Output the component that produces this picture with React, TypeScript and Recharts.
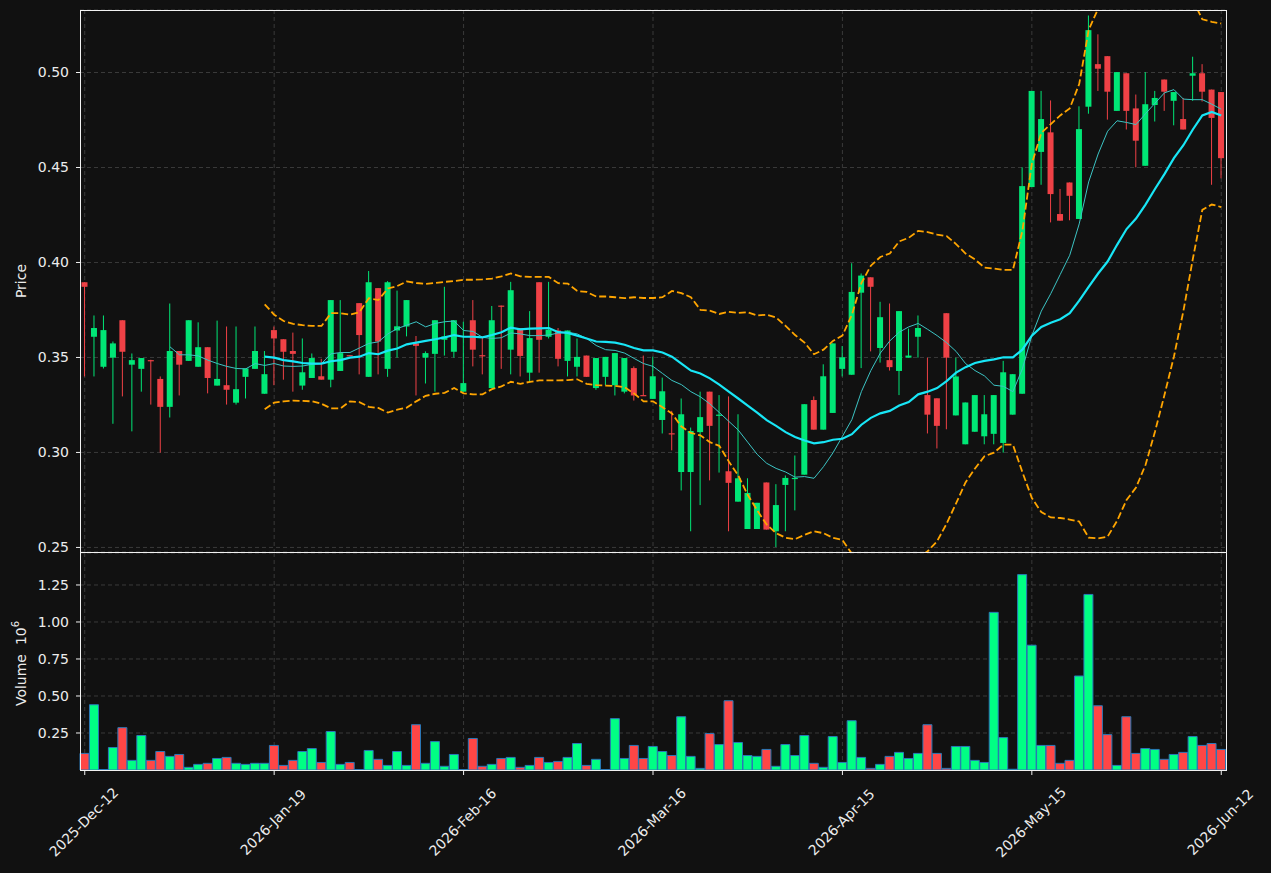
import React from 'react';
import {
  ComposedChart,
  Bar,
  Line,
  XAxis,
  YAxis,
  CartesianGrid,
  Cell,
} from 'recharts';

const W = 1271;
const H = 873;
const FONT = '"DejaVu Sans", Verdana, sans-serif';
const BG = '#111111';
const TEXT = '#ececec';
const GRID = '#3a3a3a';
const UP = '#00e676';
const DOWN = '#ef4146';
const VOL_UP = '#00ff84';
const VOL_DOWN = '#ff4646';

// x axis labels, one every 20 candles
const tickLabels = [
  '2025-Dec-12',
  '2026-Jan-19',
  '2026-Feb-16',
  '2026-Mar-16',
  '2026-Apr-15',
  '2026-May-15',
  '2026-Jun-12',
];
const tickIdx = [0, 20, 40, 60, 80, 100, 120];

const opens = [
  0.3896, 0.3609, 0.3451, 0.3499, 0.3696, 0.3462, 0.344, 0.3486, 0.3387, 0.324,
  0.3534, 0.3482, 0.3451, 0.3554, 0.3352, 0.3354, 0.3262, 0.3398, 0.344, 0.3309,
  0.3644, 0.3596, 0.3534, 0.3352, 0.3392, 0.3401, 0.3383, 0.3429, 0.3512, 0.3786,
  0.3398, 0.3865, 0.344, 0.3642, 0.3663, 0.3574, 0.3499, 0.3519, 0.3593, 0.353,
  0.332, 0.3696, 0.3512, 0.3339, 0.3773, 0.3541, 0.3655, 0.342, 0.3896, 0.3609,
  0.3642, 0.3482, 0.3451, 0.351, 0.3339, 0.3398, 0.3354, 0.332, 0.3444, 0.3302,
  0.3282, 0.3171, 0.3101, 0.2897, 0.2897, 0.3107, 0.332, 0.3197, 0.2901, 0.2741,
  0.2597, 0.2597, 0.2842, 0.2585, 0.2829, 0.2862, 0.2883, 0.3276, 0.312, 0.3208,
  0.344, 0.3409, 0.3841, 0.3922, 0.355, 0.3486, 0.3429, 0.3499, 0.3609, 0.3302,
  0.3285, 0.3733, 0.3195, 0.3043, 0.3109, 0.3085, 0.3098, 0.305, 0.3199, 0.3309,
  0.4397, 0.4582, 0.4685, 0.4255, 0.4421, 0.4229, 0.482, 0.5044, 0.5086, 0.4798,
  0.4996, 0.4811, 0.4509, 0.4829, 0.4963, 0.4851, 0.4755, 0.4983, 0.4996, 0.491,
  0.4897,
];

const highs = [
  0.3896, 0.3721, 0.3721, 0.3584, 0.3696, 0.3521, 0.3497, 0.3488, 0.34, 0.3784,
  0.3534, 0.3696, 0.3685, 0.3554, 0.3694, 0.3663, 0.3663, 0.3442, 0.3663, 0.3534,
  0.3663, 0.3596, 0.3631, 0.36, 0.3521, 0.3493, 0.3802, 0.3802, 0.3512, 0.3786,
  0.3955, 0.3865, 0.3902, 0.3852, 0.3802, 0.3613, 0.3532, 0.3696, 0.3872, 0.3696,
  0.3688, 0.3802, 0.3606, 0.3771, 0.3773, 0.3898, 0.3655, 0.3744, 0.3896, 0.3898,
  0.3655, 0.3642, 0.36, 0.351, 0.3497, 0.3503, 0.3523, 0.3497, 0.3453, 0.351,
  0.3504, 0.3394, 0.3219, 0.3284, 0.3131, 0.332, 0.332, 0.3302, 0.3295, 0.3201,
  0.2864, 0.2735, 0.2842, 0.2833, 0.2879, 0.2984, 0.3254, 0.3295, 0.3464, 0.3574,
  0.356, 0.3996, 0.3942, 0.3922, 0.3793, 0.3784, 0.3744, 0.3652, 0.3721, 0.3499,
  0.3285, 0.3733, 0.3499, 0.3263, 0.3302, 0.3302, 0.3302, 0.3482, 0.3412, 0.4501,
  0.4903, 0.4903, 0.4853, 0.4387, 0.4421, 0.4822, 0.53, 0.5201, 0.5086, 0.5002,
  0.4996, 0.4884, 0.5002, 0.4903, 0.4963, 0.4897, 0.4866, 0.5083, 0.5044, 0.491,
  0.4897,
];

const lows = [
  0.34, 0.34, 0.3442, 0.3151, 0.3295, 0.3111, 0.332, 0.3252, 0.2999, 0.3184,
  0.33, 0.3482, 0.3451, 0.3311, 0.3352, 0.3252, 0.3252, 0.3284, 0.344, 0.3309,
  0.3354, 0.3383, 0.332, 0.333, 0.3392, 0.3383, 0.3343, 0.3429, 0.3509, 0.3411,
  0.3398, 0.3411, 0.3398, 0.3499, 0.3611, 0.33, 0.3363, 0.332, 0.351, 0.3499,
  0.332, 0.3453, 0.3411, 0.3339, 0.344, 0.3411, 0.34, 0.3376, 0.342, 0.36,
  0.3453, 0.34, 0.34, 0.3398, 0.333, 0.3354, 0.33, 0.3311, 0.3273, 0.3298,
  0.3282, 0.31, 0.3011, 0.28, 0.2585, 0.2723, 0.2853, 0.2894, 0.2585, 0.2741,
  0.2597, 0.2597, 0.2594, 0.2502, 0.2585, 0.2695, 0.2883, 0.312, 0.312, 0.3208,
  0.34, 0.3409, 0.3444, 0.3532, 0.3473, 0.3431, 0.3302, 0.3499, 0.3499, 0.31,
  0.3021, 0.3122, 0.3195, 0.3043, 0.3109, 0.3043, 0.3043, 0.2999, 0.3199, 0.3309,
  0.4397, 0.4409, 0.4211, 0.422, 0.4222, 0.4229, 0.4783, 0.4903, 0.4752, 0.4798,
  0.47, 0.4501, 0.4509, 0.4742, 0.4798, 0.4722, 0.47, 0.4851, 0.4847, 0.4409,
  0.4443,
];

const closes = [
  0.3872, 0.3655, 0.3644, 0.3574, 0.353, 0.3486, 0.3497, 0.3482, 0.324, 0.3534,
  0.3462, 0.3696, 0.3554, 0.3392, 0.3387, 0.333, 0.3333, 0.3442, 0.3534, 0.3412,
  0.36, 0.353, 0.3519, 0.3422, 0.3497, 0.3383, 0.3802, 0.3523, 0.3509, 0.3618,
  0.3896, 0.3584, 0.3896, 0.3664, 0.3802, 0.3561, 0.3523, 0.3696, 0.3611, 0.3696,
  0.3365, 0.3541, 0.351, 0.3696, 0.3771, 0.3854, 0.3508, 0.3602, 0.3593, 0.3646,
  0.3493, 0.3642, 0.3503, 0.3398, 0.3497, 0.3503, 0.3523, 0.3497, 0.33, 0.33,
  0.3401, 0.3322, 0.3099, 0.3201, 0.3113, 0.3186, 0.314, 0.3199, 0.284, 0.2864,
  0.2787, 0.2735, 0.2594, 0.2723, 0.2866, 0.2866, 0.3254, 0.312, 0.3401, 0.3574,
  0.3501, 0.3845, 0.3931, 0.3872, 0.3712, 0.3449, 0.3744, 0.351, 0.3655, 0.3199,
  0.314, 0.3499, 0.34, 0.3263, 0.3302, 0.3201, 0.3302, 0.3422, 0.3412, 0.4402,
  0.4903, 0.4755, 0.436, 0.422, 0.4351, 0.4702, 0.5223, 0.502, 0.4899, 0.5002,
  0.4798, 0.4641, 0.4833, 0.4866, 0.4899, 0.4897, 0.47, 0.4996, 0.4899, 0.4761,
  0.4549,
];

// volume in millions
const volumes = [
  0.112, 0.441, 0.003, 0.152, 0.286, 0.065, 0.233, 0.065, 0.125, 0.092,
  0.105, 0.018, 0.038, 0.045, 0.078, 0.085, 0.045, 0.038, 0.045, 0.045,
  0.166, 0.031, 0.065, 0.125, 0.145, 0.051, 0.26, 0.038, 0.051, 0.003,
  0.132, 0.072, 0.031, 0.125, 0.031, 0.306, 0.045, 0.192, 0.025, 0.105,
  0.003, 0.213, 0.025, 0.038, 0.078, 0.085, 0.018, 0.031, 0.085, 0.051,
  0.058, 0.085, 0.179, 0.031, 0.072, 0.003, 0.347, 0.078, 0.166, 0.078,
  0.159, 0.125, 0.098, 0.36, 0.092, 0.011, 0.246, 0.172, 0.468, 0.186,
  0.098, 0.092, 0.139, 0.025, 0.172, 0.098, 0.233, 0.045, 0.018, 0.226,
  0.051, 0.333, 0.085, 0.011, 0.038, 0.092, 0.119, 0.078, 0.112, 0.306,
  0.112, 0.011, 0.159, 0.159, 0.065, 0.051, 1.065, 0.219, 0.005, 1.32,
  0.843, 0.166, 0.166, 0.045, 0.065, 0.635, 1.186, 0.434, 0.239, 0.031,
  0.36, 0.112, 0.145, 0.139, 0.072, 0.105, 0.119, 0.226, 0.166, 0.179,
  0.139,
];

const N = null;

// thin moving average (10)
const ma10 = [
  N, N, N, N, N, N, N, N, N, 0.3556,
  0.3514, 0.3514, 0.3508, 0.3486, 0.3468, 0.3453, 0.3442, 0.344, 0.3468, 0.3458,
  0.3468, 0.3455, 0.3453, 0.3455, 0.3464, 0.3468, 0.3519, 0.3526, 0.3526, 0.355,
  0.3574, 0.3582, 0.3624, 0.3652, 0.367, 0.3688, 0.3661, 0.3679, 0.3688, 0.3692,
  0.3642, 0.3637, 0.3606, 0.36, 0.3604, 0.3629, 0.3624, 0.3615, 0.3615, 0.3618,
  0.3629, 0.3633, 0.3624, 0.36, 0.3563, 0.3541, 0.3537, 0.3523, 0.3495, 0.3468,
  0.3453, 0.3416, 0.3379, 0.3357, 0.332, 0.3293, 0.3256, 0.321, 0.3164, 0.3118,
  0.3054, 0.299, 0.2943, 0.2916, 0.2897, 0.287, 0.2873, 0.2864, 0.2925, 0.2998,
  0.3085, 0.3173, 0.332, 0.3431, 0.3523, 0.3587, 0.3633, 0.3661, 0.3679, 0.3648,
  0.3615, 0.3578, 0.3532, 0.3468, 0.3431, 0.3403, 0.3354, 0.3348, 0.332, 0.344,
  0.3615, 0.3744, 0.3836, 0.3937, 0.4038, 0.4203, 0.4424, 0.4571, 0.4691, 0.4746,
  0.4737, 0.4726, 0.4783, 0.4838, 0.4893, 0.491, 0.486, 0.4857, 0.4857, 0.4833,
  0.4807,
];

// thick moving average (20)
const ma20 = [
  N, N, N, N, N, N, N, N, N, N,
  N, N, N, N, N, N, N, N, N, 0.3504,
  0.3499, 0.3486, 0.3479, 0.3471, 0.3468, 0.3468, 0.348, 0.3486, 0.3499, 0.3504,
  0.3523, 0.3517, 0.3536, 0.3547, 0.3569, 0.3578, 0.3587, 0.3596, 0.3606, 0.3618,
  0.3609, 0.3609, 0.3606, 0.3618, 0.3633, 0.3657, 0.3648, 0.3652, 0.3653, 0.3655,
  0.3633, 0.3629, 0.3615, 0.36, 0.3584, 0.3582, 0.3578, 0.3567, 0.355, 0.3537,
  0.3537, 0.3526, 0.3504, 0.3468, 0.3431, 0.3416, 0.339, 0.3357, 0.332, 0.3284,
  0.3247, 0.321, 0.317, 0.314, 0.3107, 0.3081, 0.3063, 0.3048, 0.3054, 0.3067,
  0.3072, 0.3096, 0.3146, 0.3182, 0.3206, 0.3219, 0.3247, 0.3265, 0.3306, 0.332,
  0.3339, 0.3376, 0.342, 0.3449, 0.3471, 0.3482, 0.349, 0.3501, 0.3501, 0.3541,
  0.3615, 0.3661, 0.3683, 0.3701, 0.3733, 0.3799, 0.3872, 0.3942, 0.4005, 0.4093,
  0.4176, 0.4231, 0.4305, 0.4387, 0.4465, 0.4549, 0.4617, 0.47, 0.4774, 0.4792,
  0.4774,
];

const bbUpper = [
  N, N, N, N, N, N, N, N, N, N,
  N, N, N, N, N, N, N, N, N, 0.378,
  0.3725, 0.3692, 0.3677, 0.367, 0.3666, 0.3666, 0.3733, 0.3733, 0.3725, 0.3738,
  0.3812, 0.3802, 0.3863, 0.3876, 0.39, 0.3892, 0.3887, 0.3892, 0.3898, 0.3902,
  0.3909, 0.3909, 0.3911, 0.3915, 0.3927, 0.3942, 0.3927, 0.3924, 0.3924, 0.3924,
  0.3891, 0.3889, 0.385, 0.3845, 0.3821, 0.3821, 0.3817, 0.3812, 0.3817, 0.3813,
  0.3813, 0.3817, 0.385, 0.3839, 0.3817, 0.3751, 0.3747, 0.3729, 0.374, 0.3734,
  0.3738, 0.3721, 0.3725, 0.371, 0.3666, 0.3618, 0.3578, 0.3517, 0.3541, 0.3587,
  0.3615, 0.3725, 0.3891, 0.3983, 0.4029, 0.4047, 0.4111, 0.413, 0.4166, 0.416,
  0.4147, 0.4139, 0.4097, 0.4047, 0.4016, 0.3973, 0.3968, 0.3961, 0.3961, 0.4166,
  0.452, 0.4682, 0.4728, 0.4774, 0.4811, 0.4939, 0.5224, 0.5336, 0.5453, 0.5546,
  0.5602, 0.5647, 0.5676, 0.5665, 0.5628, 0.5594, 0.549, 0.5381, 0.528, 0.5267,
  0.5258,
];

const bbLower = [
  N, N, N, N, N, N, N, N, N, N,
  N, N, N, N, N, N, N, N, N, 0.3228,
  0.3262, 0.3269, 0.3273, 0.3271, 0.3269, 0.3256, 0.3232, 0.3232, 0.3269, 0.3265,
  0.324, 0.3234, 0.321, 0.3225, 0.3236, 0.3269, 0.3298, 0.3309, 0.3314, 0.3339,
  0.3311, 0.3306, 0.3306, 0.3333, 0.3348, 0.3372, 0.3361, 0.3372, 0.3379, 0.3379,
  0.3379, 0.3381, 0.3385, 0.3361, 0.3354, 0.3352, 0.335, 0.3343, 0.3311, 0.3269,
  0.3269, 0.3238, 0.3205, 0.3136, 0.3103, 0.309, 0.3054, 0.3035, 0.2953, 0.2879,
  0.2777, 0.2695, 0.2621, 0.2575, 0.2551, 0.2544, 0.2566, 0.2585, 0.2575, 0.2551,
  0.2539, 0.2467, 0.2401, 0.2381, 0.2383, 0.2391, 0.2383, 0.24, 0.2446, 0.248,
  0.2533, 0.2625, 0.2732, 0.2842, 0.2916, 0.298, 0.2999, 0.3041, 0.3041, 0.2897,
  0.276, 0.2686, 0.2658, 0.2655, 0.2647, 0.2636, 0.2552, 0.2548, 0.2557, 0.264,
  0.275, 0.2815, 0.2934, 0.3109, 0.3302, 0.3504, 0.3744, 0.4019, 0.4277, 0.4305,
  0.4292,
];

const priceTicks = [0.25, 0.3, 0.35, 0.4, 0.45, 0.5];
const volumeTicks = [0.25, 0.5, 0.75, 1.0, 1.25];

const rows = opens.map((o, i) => ({
  i,
  open: o,
  high: highs[i],
  low: lows[i],
  close: closes[i],
  volume: volumes[i],
  ma10: ma10[i],
  ma20: ma20[i],
  bbUpper: bbUpper[i],
  bbLower: bbLower[i],
}));

// vertical grid lines at the labelled dates (centre of each date's band)
function dateGridX(props: any) {
  const s = props?.xAxis?.scale;
  try {
    if (typeof s === 'function') {
      const bw = typeof s.bandwidth === 'function' ? s.bandwidth() : 0;
      return tickIdx.map((t) => s(t) + bw / 2);
    }
  } catch (e) {
    // fall through to the plot-area band layout
  }
  const off = props?.offset;
  if (!off) return [];
  const band = off.width / rows.length;
  return tickIdx.map((t) => off.left + band * (t + 0.5));
}

function Candle(props: any) {
  const {x, y, width, height, payload} = props;
  if (!payload || x == null) return null;
  const {open, close, high, low} = payload;
  const color = close >= open ? UP : DOWN;
  const cx = x + width / 2;
  const span = high - low;
  const toY = (v: number) => (span > 0 ? y + ((high - v) / span) * height : y);
  const top = toY(Math.max(open, close));
  const bottom = toY(Math.min(open, close));
  return (
    <g>
      <line x1={cx} x2={cx} y1={y} y2={y + height} stroke={color} strokeWidth={1} />
      <rect x={cx - 3} y={top} width={6} height={Math.max(bottom - top, 1.2)} fill={color} />
    </g>
  );
}

function DateTick(props: any) {
  const {x, y, payload} = props;
  const pos = tickIdx.indexOf(payload.value);
  if (pos < 0) return null;
  const cy = y + 45;
  return (
    <text
      x={x - 1}
      y={cy}
      fill={TEXT}
      fontSize={14}
      fontFamily={FONT}
      textAnchor="middle"
      dominantBaseline="central"
      transform={`rotate(-45, ${x - 1}, ${cy})`}
    >
      {tickLabels[pos]}
    </text>
  );
}

const frame = {
  position: 'absolute' as const,
  left: 80,
  width: 1147,
  border: '1px solid #f2f2f2',
  boxSizing: 'border-box' as const,
  pointerEvents: 'none' as const,
};

export default function App() {
  const yTick = {fill: TEXT, fontSize: 14, fontFamily: FONT};
  return (
    <div style={{position: 'fixed', left: 0, top: 0, width: W, height: H, background: BG, overflow: 'hidden'}}>
      <div style={{position: 'absolute', left: 0, top: 0}}>
        <ComposedChart
          width={W}
          height={560}
          data={rows}
          barCategoryGap={0}
          margin={{top: 10, right: 45, bottom: 8, left: 0}}
        >
          <CartesianGrid
            stroke={GRID}
            strokeDasharray="4 3"
            verticalCoordinatesGenerator={dateGridX}
          />
          <XAxis dataKey="i" type="category" hide />
          <YAxis
            width={80}
            domain={[0.2476, 0.5329]}
            allowDataOverflow
            ticks={priceTicks}
            tickFormatter={(v: number) => v.toFixed(2)}
            tick={yTick}
            tickSize={4}
            tickMargin={7}
            tickLine={{stroke: '#f2f2f2'}}
            axisLine={false}
            label={({viewBox}: any) => (
              <text
                x={21}
                y={viewBox.y + viewBox.height / 2}
                fill={TEXT}
                fontSize={14}
                fontFamily={FONT}
                textAnchor="middle"
                dominantBaseline="central"
                transform={`rotate(-90, 21, ${viewBox.y + viewBox.height / 2})`}
              >
                Price
              </text>
            )}
          />
          <Bar dataKey={(d: any) => [d.low, d.high]} shape={Candle} isAnimationActive={false} />
          <Line dataKey="ma10" stroke="#3cc4c4" strokeWidth={1} dot={false} isAnimationActive={false} />
          <Line dataKey="ma20" stroke="#18e6f6" strokeWidth={2.2} dot={false} isAnimationActive={false} />
          <Line dataKey="bbUpper" stroke="#ffa500" strokeWidth={1.8} strokeDasharray="7 3" dot={false} isAnimationActive={false} />
          <Line dataKey="bbLower" stroke="#ffa500" strokeWidth={1.8} strokeDasharray="7 3" dot={false} isAnimationActive={false} />
        </ComposedChart>
      </div>
      <div style={{position: 'absolute', left: 0, top: 0}}>
        <ComposedChart
          width={W}
          height={H}
          data={rows}
          barCategoryGap={0}
          margin={{top: 553, right: 45, bottom: 0, left: 0}}
        >
          <CartesianGrid
            stroke={GRID}
            strokeDasharray="4 3"
            verticalCoordinatesGenerator={dateGridX}
          />
          <XAxis
            dataKey="i"
            type="category"
            height={103}
            interval={19}
            tickSize={5}
            tickLine={{stroke: '#f2f2f2'}}
            axisLine={false}
            tick={<DateTick />}
          />
          <YAxis
            width={80}
            domain={[0, 1.466]}
            allowDataOverflow
            ticks={volumeTicks}
            tickFormatter={(v: number) => v.toFixed(2)}
            tick={yTick}
            tickSize={4}
            tickMargin={7}
            tickLine={{stroke: '#f2f2f2'}}
            axisLine={false}
            label={({viewBox}: any) => {
              const cy = viewBox.y + viewBox.height / 2 + 2;
              return (
                <text
                  x={21}
                  y={cy}
                  fill={TEXT}
                  fontSize={14}
                  fontFamily={FONT}
                  textAnchor="middle"
                  dominantBaseline="central"
                  transform={`rotate(-90, 21, ${cy})`}
                >
                  Volume{'\u00a0\u00a0'}10
                  <tspan fontSize={10} dy={-6}>6</tspan>
                </text>
              );
            }}
          />
          <Bar dataKey="volume" stroke="#2a78b8" strokeWidth={1} isAnimationActive={false}>
            {rows.map((r) => (
              <Cell key={r.i} fill={r.close >= r.open ? VOL_UP : VOL_DOWN} />
            ))}
          </Bar>
        </ComposedChart>
      </div>
      <div style={{...frame, top: 10, height: 543}} />
      <div style={{...frame, top: 552, height: 219}} />
    </div>
  );
}
